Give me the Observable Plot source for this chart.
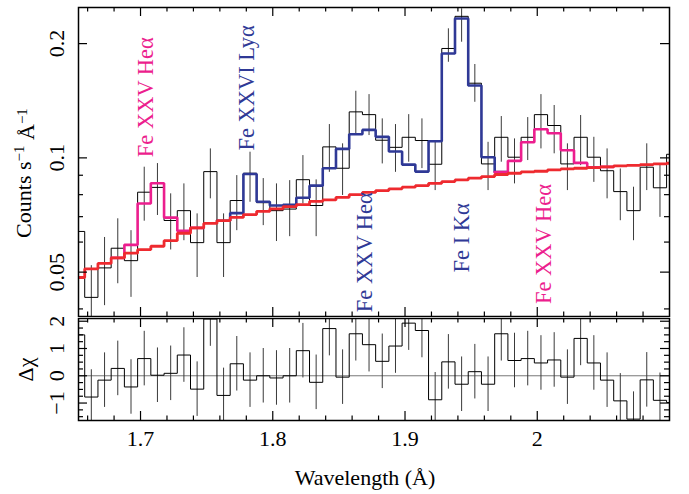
<!DOCTYPE html>
<html>
<head>
<meta charset="utf-8">
<script src="https://cdn.jsdelivr.net/npm/d3@7"></script>
<script src="https://cdn.jsdelivr.net/npm/@observablehq/plot@0.6"></script>
<style>
  html, body { margin: 0; padding: 0; background: #fff; }
  #chart svg { display: block; }
</style>
</head>
<body>
<div id="chart"></div>
<script>
// ---------- data ----------
const binLeft = [1.6478,1.6578,1.6678,1.6778,1.6878,1.6978,1.7078,1.7178,1.7278,1.7378,
  1.7478,1.7578,1.7678,1.7778,1.7878,1.7978,1.8078,1.8178,1.8278,1.8378,
  1.8478,1.8578,1.8678,1.8778,1.8878,1.8978,1.9078,1.9178,1.9278,1.9378,
  1.9478,1.9578,1.9678,1.9778,1.9878,1.9978,2.0078,2.0178,2.0278,2.0378,
  2.0478,2.0578,2.0678,2.0778,2.0878,2.0978];
const binWidth = 0.01;

const counts = [0.0640,0.0429,0.0513,0.0578,0.0536,0.0812,0.0836,0.0684,0.0726,0.0598,
  0.0920,0.0598,0.0772,0.0911,0.0762,0.0726,0.0733,0.0876,0.0749,0.1069,
  0.0939,0.1322,0.1300,0.1113,0.1066,0.1133,0.1111,0.0962,0.1942,0.2360,
  0.1573,0.0964,0.1133,0.1004,0.1133,0.1300,0.1217,0.0964,0.1133,0.1004,
  0.0925,0.0815,0.0726,0.0945,0.0834,0.1022];
const countsLow = [null,0.0360,0.0408,0.0466,0.0429,0.0681,0.0705,0.0572,0.0605,0.0484,
  0.0780,0.0484,0.0643,0.0764,0.0663,0.0602,0.0620,0.0756,0.0620,0.0916,
  0.0796,0.1157,0.1145,0.0964,0.0916,0.0974,0.0937,0.0820,0.1786,0.2017,
  0.1401,0.0820,0.0974,0.0854,0.0984,0.1056,0.1025,0.0820,0.0954,0.0862,
  0.0780,0.0683,0.0605,0.0820,0.0697,null];
const countsHigh = [null,0.0520,0.0617,0.0691,0.0643,0.0945,0.0966,0.0804,0.0854,0.0712,
  0.1056,0.0712,0.0898,0.1035,0.0882,0.0854,0.0871,0.1014,0.0875,0.1224,
  0.1089,0.1498,0.1468,0.1267,0.1224,0.1300,0.1267,0.1111,0.2188,0.2471,
  0.1762,0.1099,0.1285,0.1122,0.1277,0.1468,0.1374,0.1089,0.1293,0.1133,
  0.1056,0.0935,0.0837,0.1089,0.0964,null];

const continuum = [0.0484,0.0510,0.0527,0.0545,0.0561,0.0573,0.0585,0.0605,0.0633,0.0654,
  0.0672,0.0683,0.0697,0.0709,0.0723,0.0734,0.0744,0.0753,0.0768,0.0775,
  0.0787,0.0800,0.0811,0.0820,0.0829,0.0837,0.0845,0.0857,0.0866,0.0875,
  0.0884,0.0893,0.0904,0.0911,0.0919,0.0922,0.0930,0.0935,0.0939,0.0943,
  0.0947,0.0953,0.0956,0.0960,0.0964,0.0968];

// model with Fe XXVI Lyα, Fe XXV Heα, Fe I Kα (blue)
const modelCore = [null,null,null,null,null,null,null,null,null,null,
  null,0.0683,0.0715,0.0907,0.0766,0.0749,0.0752,0.0785,0.0845,0.0939,
  0.1056,0.1154,0.1185,0.1136,0.1039,0.0960,0.0920,0.1106,0.1883,0.2330,
  0.1551,0.1004,0.0917,null,null,null,null,null,null,null,
  null,null,null,null,null,null];
// model with shifted Fe XXV Heα components (magenta)
const modelShifted = [null,null,null,0.0545,0.0590,0.0758,0.0857,0.0696,0.0642,0.0654,
  null,null,null,null,null,null,null,null,null,null,
  null,null,null,null,null,null,null,null,null,null,
  null,null,0.0917,0.0982,0.1099,0.1190,0.1161,0.1047,0.0970,0.0945,
  0.0947,null,null,null,null,null];

const residuals = [1.5,-0.78,-0.16,0.27,-0.41,0.63,0.02,0.09,0.76,-0.49,
  2.08,-0.72,0.44,-0.16,0.00,-0.08,0.00,0.92,-0.24,1.73,
  -0.05,1.54,1.14,0.53,1.09,1.93,1.66,-0.88,0.51,-0.31,
  0.15,-0.31,1.54,0.56,0.63,0.47,0.58,-0.05,1.37,0.47,
  -0.16,-0.92,-1.59,-0.15,-0.90,-0.98];
const residualSigma = 1;

const xDomain = [1.6531, 2.1];
const yDomain = [0.0382, 0.249];
const rDomain = [-1.64, 2.1];

const xMajorTicks = [1.7, 1.8, 1.9, 2];
const xMinorTicks = [1.66,1.68,1.72,1.74,1.76,1.78,1.82,1.84,1.86,1.88,1.92,1.94,1.96,1.98,2.02,2.04,2.06,2.08];
const yMajorTicks = [0.05, 0.1, 0.2];
const yMinorTicks = [0.04, 0.06, 0.07, 0.08, 0.09];
const rMajorTicks = [-1, 0, 1, 2];
const rMinorTicks = [-1.5,-1.25,-0.75,-0.5,-0.25,0.25,0.5,0.75,1.25,1.5,1.75];

const lineLabels = ["Fe XXV Heα", "Fe XXVI Lyα", "Fe XXV Heα", "Fe I Kα", "Fe XXV Heα"];
const lineLabelX = [1.7043, 1.7800, 1.8693, 1.9426, 2.0047];
const lineLabelY = [0.1004, 0.1045, 0.0392, 0.0499, 0.0412];
const lineLabelGroup = ["shifted", "core", "core", "core", "shifted"];

const xTitle = "Wavelength (Å)";
const yTitle = "Counts s-1 Å-1";
const rTitle = "Δχ";

// ---------- styles / layout ----------
const colors = {core: "#2f3996", shifted: "#ec1e8e", continuum: "#ee2a2f", data: "#000", err: "#3a3a3a", zero: "#777"};
const W = 689, mL = 78, mR = 20;
const topH = 317, topMT = 7, topMB = 1;
const botH = 177, botMT = 1, botMB = 74;
const frameW = W - mL - mR;
const topFH = topH - topMT - topMB;
const botFH = botH - botMT - botMB;
const majLen = 9, minLen = 4.5, yMinLen = 5;
const font = "'Liberation Serif', 'Times New Roman', Times, serif";

function stepPoints(values) {
  const pts = []; let seg = 0;
  values.forEach((v, i) => {
    if (v == null) { seg++; return; }
    pts.push({x: binLeft[i], y: v, seg}, {x: binLeft[i] + binWidth, y: v, seg});
  });
  return pts;
}
const idx = d3.range(binLeft.length);
const center = i => binLeft[i] + binWidth / 2;

function tickMarks(fh, yMaj, yMin) {
  return [
    Plot.ruleX(xMajorTicks, {insetTop: fh - majLen, stroke: "black", strokeWidth: 1.2}),
    Plot.ruleX(xMajorTicks, {insetBottom: fh - majLen, stroke: "black", strokeWidth: 1.2}),
    Plot.ruleX(xMinorTicks, {insetTop: fh - minLen, stroke: "black", strokeWidth: 1.2}),
    Plot.ruleX(xMinorTicks, {insetBottom: fh - minLen, stroke: "black", strokeWidth: 1.2}),
    Plot.ruleY(yMaj, {insetRight: frameW - majLen, stroke: "black", strokeWidth: 1.2}),
    Plot.ruleY(yMaj, {insetLeft: frameW - majLen, stroke: "black", strokeWidth: 1.2}),
    Plot.ruleY(yMin, {insetRight: frameW - yMinLen, stroke: "black", strokeWidth: 1.2}),
    Plot.ruleY(yMin, {insetLeft: frameW - yMinLen, stroke: "black", strokeWidth: 1.2})
  ];
}

const errIdx = idx.filter(i => countsLow[i] != null);

const topPlot = Plot.plot({
  width: W, height: topH,
  marginLeft: mL, marginRight: mR, marginTop: topMT, marginBottom: topMB,
  style: {fontFamily: font, fontSize: "22px", background: "white"},
  x: {domain: xDomain, axis: null},
  y: {type: "log", domain: yDomain, axis: null},
  marks: [
    Plot.ruleX(errIdx, {x: center, y1: i => countsLow[i], y2: i => countsHigh[i], stroke: colors.err, strokeWidth: 1, clip: true}),
    Plot.line(stepPoints(counts), {x: "x", y: "y", z: "seg", stroke: colors.data, strokeWidth: 1, clip: true}),
    Plot.line(stepPoints(modelCore), {x: "x", y: "y", z: "seg", stroke: colors.core, strokeWidth: 2.6, strokeLinejoin: "miter", clip: true}),
    Plot.line(stepPoints(modelShifted), {x: "x", y: "y", z: "seg", stroke: colors.shifted, strokeWidth: 2.6, strokeLinejoin: "miter", clip: true}),
    Plot.line(stepPoints(continuum), {x: "x", y: "y", z: "seg", stroke: colors.continuum, strokeWidth: 2.8, strokeLinejoin: "miter", clip: true}),
    ...["core", "shifted"].map(g => Plot.text(d3.range(lineLabels.length).filter(i => lineLabelGroup[i] === g), {
      x: i => lineLabelX[i], y: i => lineLabelY[i], text: i => lineLabels[i],
      rotate: -90, textAnchor: "start", fill: colors[g], fontSize: 22.5
    })),
    ...tickMarks(topFH, yMajorTicks, yMinorTicks),
    Plot.frame({stroke: "black", strokeWidth: 1.5}),
    Plot.axisY({ticks: yMajorTicks, tickSize: 0, tickRotate: -90, tickPadding: 15, tickFormat: d => String(d), label: null}),
    Plot.text([yTitle], {frameAnchor: "left", textAnchor: "middle", dx: -55, dy: 11, rotate: -90, fontSize: 22})
  ]
});

const botPlot = Plot.plot({
  width: W, height: botH,
  marginLeft: mL, marginRight: mR, marginTop: botMT, marginBottom: botMB,
  style: {fontFamily: font, fontSize: "22px", background: "white"},
  x: {domain: xDomain, axis: null},
  y: {domain: rDomain, axis: null},
  marks: [
    Plot.ruleY([0], {stroke: colors.zero, strokeWidth: 1}),
    Plot.ruleX(idx, {x: center, y1: i => residuals[i] - residualSigma, y2: i => residuals[i] + residualSigma, stroke: colors.err, strokeWidth: 1, clip: true}),
    Plot.line(stepPoints(residuals), {x: "x", y: "y", z: "seg", stroke: colors.data, strokeWidth: 1, clip: true}),
    ...tickMarks(botFH, rMajorTicks, rMinorTicks),
    Plot.frame({stroke: "black", strokeWidth: 1.5}),
    Plot.axisX({ticks: xMajorTicks, tickSize: 0, tickPadding: 10, tickFormat: d => String(d), label: null}),
    Plot.axisY({ticks: rMajorTicks, tickSize: 0, tickRotate: -90, tickPadding: 15, tickFormat: d => d < 0 ? "\u2212" + Math.abs(d) : String(d), label: null}),
    Plot.text([rTitle], {frameAnchor: "left", textAnchor: "middle", dx: -53, rotate: -90, fontSize: 22}),
    Plot.text([xTitle], {frameAnchor: "bottom", dx: -9, dy: 64, fontSize: 22})
  ]
});

// superscripts in the y title
d3.select(topPlot).selectAll("text").filter(function() { return this.textContent === yTitle; }).each(function() {
  const t = d3.select(this);
  t.text(null);
  t.append("tspan").text("Counts s");
  t.append("tspan").attr("dy", "-0.45em").attr("font-size", "15px").text("\u22121");
  t.append("tspan").attr("dy", "0.45em").text(" Å");
  t.append("tspan").attr("dy", "-0.45em").attr("font-size", "15px").text("\u22121");
});

const chart = document.getElementById("chart");
chart.append(topPlot, botPlot);
</script>
</body>
</html>
